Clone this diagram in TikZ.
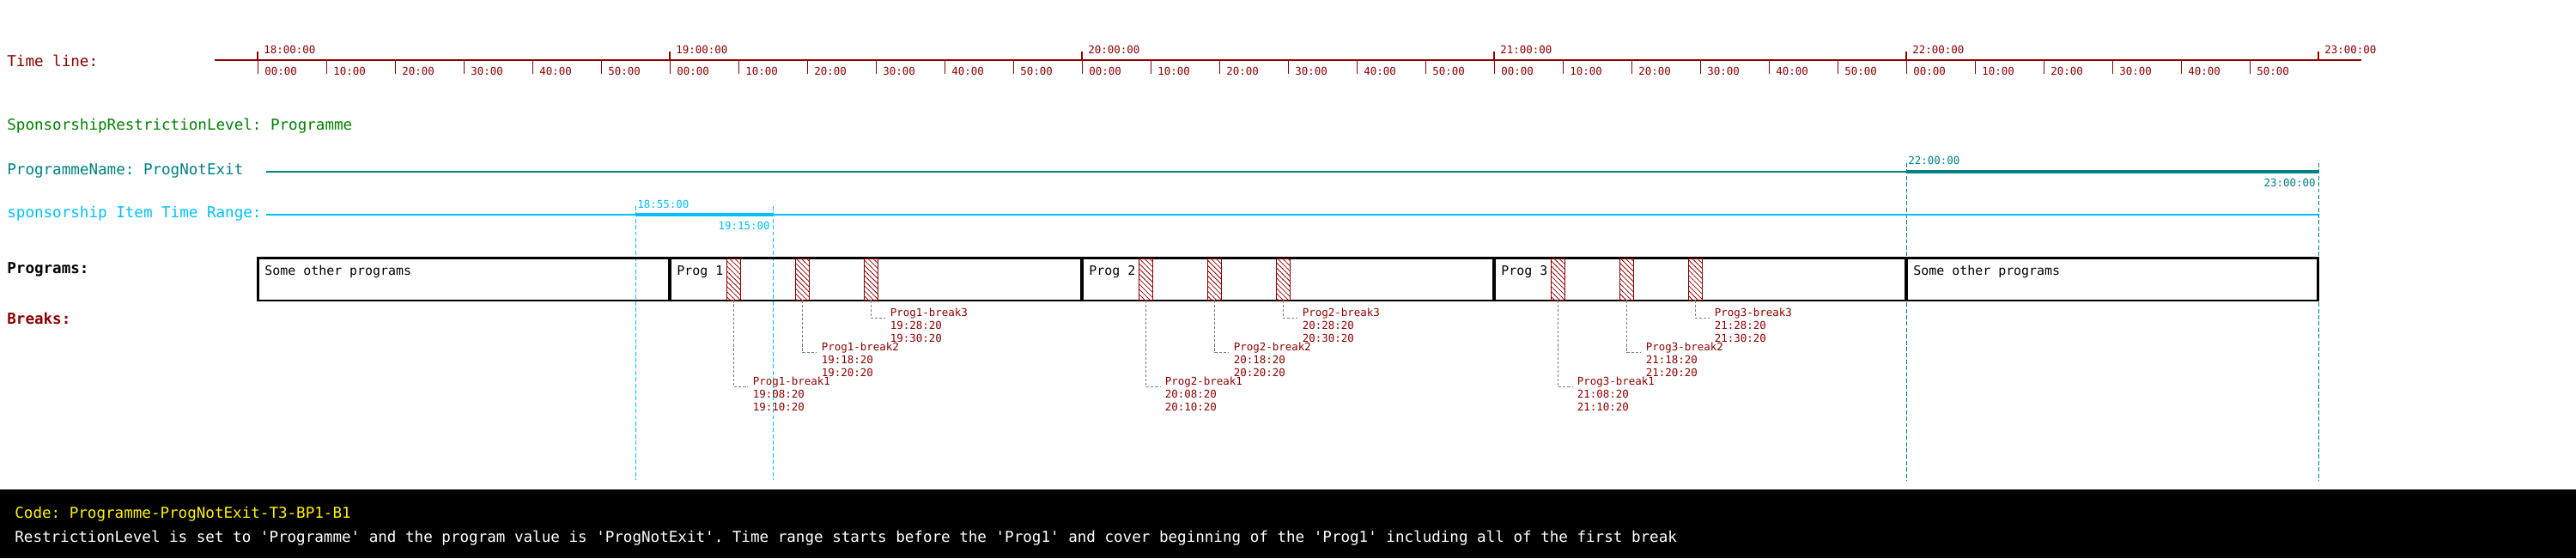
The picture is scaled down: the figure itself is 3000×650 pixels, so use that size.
\documentclass[tikz,border=0pt]{standalone}
\usepackage{fontspec}
\setmonofont{DejaVu Sans Mono}
\usepackage{tikz}
\usetikzlibrary{positioning,patterns.meta}
\definecolor{tlred}{RGB}{139,0,0}
\definecolor{lvlgreen}{RGB}{0,128,0}
\definecolor{prgteal}{RGB}{0,128,128}
\definecolor{itemblue}{RGB}{0,191,255}
\definecolor{calloutgray}{RGB}{112,128,144}

\begin{document}
\begin{tikzpicture}[x=0.02cm, y=-0.02cm,
        lbl/.style={font=\ttfamily\fontsize{10}{12}\selectfont, anchor=base west, inner sep=0pt},
        lblbold/.style={lbl, font=\ttfamily\bfseries\fontsize{10}{12}\selectfont},
        tiny/.style={font=\ttfamily\fontsize{7.1}{8.53}\selectfont, inner sep=0pt},
        prog/.style={rectangle, draw, line width=1.7pt, minimum width=9.6cm, minimum height=1cm, inner sep=0pt},
        progtxt/.style={font=\ttfamily\fontsize{8.5}{10}\selectfont, anchor=base west, inner sep=0pt},
        brk/.style={rectangle, draw=tlred, line width=0.5pt, pattern={Lines[angle=-45,distance=2.4pt,line width=0.45pt]}, pattern color=tlred, minimum width=0.32cm, minimum height=0.96cm, inner sep=0pt},
        callout/.style={draw=calloutgray, line width=0.6pt, dash pattern=on 1.8pt off 1.1pt},
        marker/.style={line width=0.55pt, dash pattern=on 2.8pt off 1.4pt}
    ]
        \useasboundingbox (0,0) rectangle (3000,650);

        % row labels
        \node[lbl, text=tlred] (timeline) at (8,77) {Time line:};
        \node[lbl, text=lvlgreen] (level) at (8,151) {SponsorshipRestrictionLevel: Programme};
        \node[lbl, text=prgteal] (prgname) at (8,203) {ProgrammeName: ProgNotExit};
        \node[lbl, text=itemblue] (itemrange) at (8,253) {sponsorship Item Time Range:};
        \node[lblbold] (programs) at (8,318) {Programs:};
        \node[lblbold, text=tlred] (breaks) at (8,377) {Breaks:};

        % time line
        \foreach \h [count=\i from 0] in {18,...,23} {
            \draw[tlred, line width=1.1pt] (300+480*\i,60) -- (300+480*\i,70);
            \node[tiny, text=tlred, anchor=base west] (hr\h) at (307+480*\i,62) {\h:00:00};
        }
        \foreach \h [count=\i from 0] in {18,...,22}
            \foreach \m [count=\n from 0] in {00,10,20,30,40,50} {
                \draw[tlred, line width=0.55pt] (300+480*\i+80*\n,70) -- (300+480*\i+80*\n,86);
                \node[tiny, text=tlred, anchor=base west] (mn\h\m) at (308+480*\i+80*\n,87.3) {\m:00};
            }
        \draw[tlred, line width=1.5pt] (250,70) -- (2750,70);

        % programme name range
        \draw[prgteal, line width=0.6pt] (310,200) -- (2700,200);
        \draw[prgteal, line width=2.7pt] (2220,200) -- (2700,200);
        \draw[prgteal, marker] (2220,190) -- (2220,559);
        \draw[prgteal, marker] (2700,190) -- (2700,559);
        \node[tiny, text=prgteal, anchor=base west] (pstart) at (2222,191.5) {22:00:00};
        \node[tiny, text=prgteal, anchor=base east] (pend) at (2697,217.5) {23:00:00};

        % sponsorship item range
        \draw[itemblue, line width=0.6pt] (310,250) -- (2700,250);
        \draw[itemblue, line width=2.5pt] (740,250) -- (900,250);
        \draw[itemblue, marker] (740,240) -- (740,559);
        \draw[itemblue, marker] (900,240) -- (900,559);
        \node[tiny, text=itemblue, anchor=base west] (istart) at (742,242.5) {18:55:00};
        \node[tiny, text=itemblue, anchor=base east] (iend) at (897,267) {19:15:00};

        % programmes
        \node[prog] (other1) at (540,325) {};
        \node[prog] (prog1) at (1020,325) {};
        \node[prog] (prog2) at (1500,325) {};
        \node[prog] (prog3) at (1980,325) {};
        \node[prog] (other2) at (2460,325) {};
        \node[progtxt] (other1txt) at (308,320.5) {Some other programs};
        \node[progtxt] (prog1txt) at (788,320.5) {Prog 1};
        \node[progtxt] (prog2txt) at (1268,320.5) {Prog 2};
        \node[progtxt] (prog3txt) at (1748,320.5) {Prog 3};
        \node[progtxt] (other2txt) at (2228,320.5) {Some other programs};

        % breaks
        \foreach \k in {1,2,3} {
            \pgfmathtruncatemacro\hh{18+\k}
            \foreach \j/\ms/\me in {1/08/10,2/18/20,3/28/30} {
                \node[brk] (b\k\j) at (300+480*\k+74.67+80*\j-80,325) {};
                \node[tiny, text=tlred, align=left, anchor=north west] (l\k\j) at (300+480*\k+96.4+80*\j-80,478.4-40*\j) {Prog\k-break\j\\\hh:\ms:20\\\hh:\me:20};
                \draw[callout] (b\k\j.south) |- ([shift={(-5,12.4)}]l\k\j.north west);
            }
        }

        % description
        \fill[black] (0,570) rectangle (3000,650);
        \node[lbl, text=yellow] (code) at (17,603) {Code: Programme-ProgNotExit-T3-BP1-B1};
        \node[lbl, text=white] (desc) at (17,631.5) {RestrictionLevel is set to 'Programme' and the program value is 'ProgNotExit'. Time range starts before the 'Prog1' and cover beginning of the 'Prog1' including all of the first break};
    \end{tikzpicture}
\end{document}
